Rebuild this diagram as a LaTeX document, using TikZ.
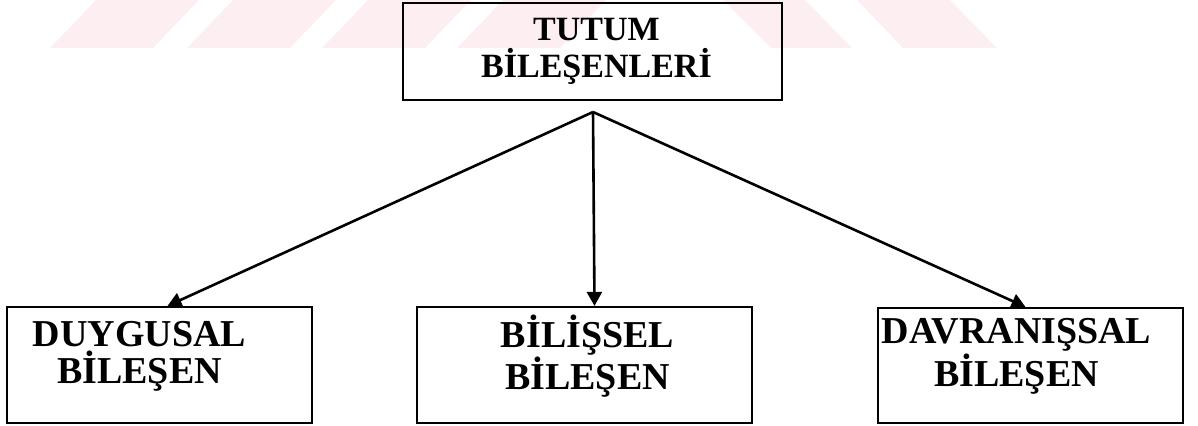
\documentclass[tikz,border=0pt]{standalone}
\usepackage{fontspec}
\setmainfont{Liberation Serif}
\usetikzlibrary{arrows.meta,calc}
\definecolor{wmpink}{RGB}{253,239,241}

\begin{document}
\begin{tikzpicture}[x=0.5pt,y=-0.5pt,
    kutu/.style={draw,line width=1.1pt,minimum width=152.5pt,minimum height=58pt},
    yazi/.style={align=center,font=\bfseries\fontsize{19}{18.5}\selectfont},
    ok/.style={-{Triangle[length=7pt,width=7.5pt]},line width=1.3pt}]
  \useasboundingbox (0,0) rectangle (1198,425);
  % faint stripes along the top edge
  \foreach \b in {50,187,322,457}
    \fill[wmpink] (\b,48) -- (\b+103,48) -- (\b+149,0) -- (\b+46,0) -- cycle;
  \fill[wmpink] (723,0) -- (805,0) -- (852,48) -- (771,48) -- cycle;
  \fill[wmpink] (857,0) -- (950,0) -- (997,48) -- (903,48) -- cycle;

  \node[kutu,minimum width=189.5pt,minimum height=48.5pt] (tutum) at (592.5,51.5) {};
  \node[kutu] (duygu) at (159.5,365) {};
  \node[kutu,minimum width=167.5pt] (bilis) at (584.5,365) {};
  \node[kutu,minimum height=57.5pt] (davran) at (1030.5,365.5) {};

  % box texts sit a little off centre
  \node[yazi,font=\bfseries\fontsize{17}{18.5}\selectfont] (tutumT) at ($(tutum)+(4,0)$) {TUTUM\\BİLEŞENLERİ};
  \node[yazi] (duyguT) at ($(duygu)+(-20,-9)$) {DUYGUSAL\\BİLEŞEN};
  \node[yazi] (bilisT) at ($(bilis)+(3,-9)$) {BİLİŞSEL\\BİLEŞEN};
  \node[yazi] (davranT) at ($(davran)+(-14,-9)$) {DAVRANIŞSAL\\BİLEŞEN};

  \coordinate (fork) at (593,112);
  \draw[ok] (fork) -- ($(duygu.north)+(8,0)$);
  \draw[ok] (fork) -- ($(bilis.north)+(10,0)$);
  \draw[ok] (fork) -- ($(davran.north)+(-5,0)$);
\end{tikzpicture}
\end{document}
